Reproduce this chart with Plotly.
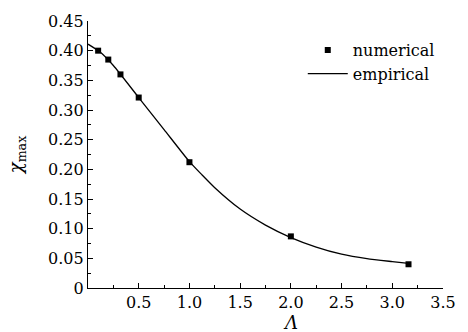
import plotly.graph_objects as go

# numerical results
lam_num = [0.1, 0.2, 0.32, 0.5, 1.0, 2.0, 3.16]
chi_num = [0.400, 0.385, 0.360, 0.321, 0.212, 0.087, 0.040]

# empirical fit curve
lam_fit = [0.0, 0.125, 0.25, 0.5, 0.75, 1.0, 1.125, 1.25, 1.5, 1.75, 2.0, 2.25, 2.5, 2.75, 3.0, 3.16]
chi_fit = [0.411, 0.397, 0.375, 0.321, 0.267, 0.213, 0.1905, 0.169, 0.133, 0.106, 0.085, 0.069, 0.057, 0.0495, 0.0445, 0.0415]

y_ticks = [0, 0.05, 0.10, 0.15, 0.20, 0.25, 0.30, 0.35, 0.40, 0.45]
y_labels = ["0", "0.05", "0.10", "0.15", "0.20", "0.25", "0.30", "0.35", "0.40", "0.45"]
x_ticks = [0.5, 1.0, 1.5, 2.0, 2.5, 3.0, 3.5]
x_labels = ["0.5", "1.0", "1.5", "2.0", "2.5", "3.0", "3.5"]

FONT = "DejaVu Serif"

fig = go.Figure()
fig.add_trace(go.Scatter(
    x=lam_num, y=chi_num, mode="markers", name="numerical",
    marker=dict(symbol="square", size=6, color="black"),
))
fig.add_trace(go.Scatter(
    x=lam_fit, y=chi_fit, mode="lines", name="empirical",
    line=dict(color="black", width=1.3, shape="spline", smoothing=0.6),
))

axis_common = dict(
    showline=True, linecolor="black", linewidth=1.2,
    ticks="inside", ticklen=5, tickwidth=1, tickcolor="black",
    showgrid=False, zeroline=False,
    tickfont=dict(family=FONT, size=16, color="black"),
)

fig.update_xaxes(
    range=[0, 3.5], tickvals=x_ticks, ticktext=x_labels,
    minor=dict(ticks="inside", ticklen=3, tick0=0, dtick=0.25, tickcolor="black", showgrid=False),
    **axis_common,
)
fig.update_yaxes(
    range=[0, 0.45], tickvals=y_ticks, ticktext=y_labels,
    minor=dict(ticks="inside", ticklen=3, tick0=0, dtick=0.025, tickcolor="black", showgrid=False),
    title=dict(text="<i>χ</i><sub>max</sub>", font=dict(family=FONT, size=18, color="black"), standoff=20),
    **axis_common,
)

fig.add_annotation(
    x=2.0, y=0, xref="x", yref="paper", yanchor="top", yshift=-22,
    text="<i>Λ</i>", showarrow=False,
    font=dict(family=FONT, size=18, color="black"),
)

fig.update_layout(
    width=468, height=332,
    margin=dict(l=88, r=17, t=18, b=44),
    paper_bgcolor="white", plot_bgcolor="white",
    showlegend=True,
    legend=dict(
        x=0.605, y=0.955, xanchor="left", yanchor="top",
        bgcolor="rgba(0,0,0,0)",
        font=dict(family=FONT, size=16, color="black"),
        itemwidth=40, tracegroupgap=2,
    ),
)

fig.write_html("out.html")
